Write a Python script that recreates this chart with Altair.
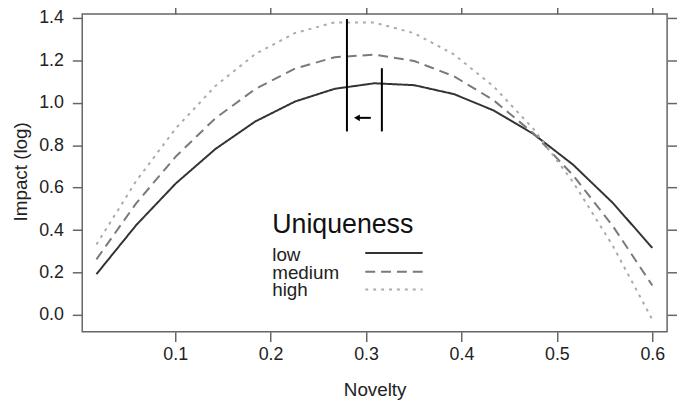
import altair as alt
import pandas as pd

# ---- data ----
novelty = [0.0175, 0.0591, 0.1007, 0.1424, 0.184, 0.2256, 0.2672, 0.3089,
           0.3505, 0.3921, 0.4337, 0.4754, 0.517, 0.5586, 0.6]
low = [0.192, 0.423, 0.620, 0.783, 0.912, 1.006, 1.066, 1.092,
       1.083, 1.041, 0.964, 0.853, 0.708, 0.528, 0.316]
medium = [0.262, 0.526, 0.747, 0.928, 1.065, 1.161, 1.215, 1.227,
          1.197, 1.125, 1.012, 0.856, 0.658, 0.419, 0.139]
high = [0.332, 0.631, 0.880, 1.080, 1.230, 1.329, 1.379, 1.378,
        1.328, 1.228, 1.077, 0.877, 0.626, 0.326, -0.022]
levels = ["low", "medium", "high"]

vline_x = [0.280, 0.3166]
vline_top = [1.395, 1.163]
vline_bottom = [0.865, 0.865]
arrow_from = [0.305]
arrow_to = [0.2905]
arrow_y = [0.929]

x_ticks = [0.1, 0.2, 0.3, 0.4, 0.5, 0.6]
y_ticks = [0.0, 0.2, 0.4, 0.6, 0.8, 1.0, 1.2, 1.4]

# ---- styling ----
FONT = "Liberation Sans"
colors = ["#333333", "#7a7a7a", "#ababab"]
dashes = [[1, 0], [10, 6], [3, 5]]
W, H = 591, 321

rows = []
for lvl, vals in zip(levels, [low, medium, high]):
    for xv, yv in zip(novelty, vals):
        rows.append({"novelty": xv, "impact": yv, "level": lvl})
df = pd.DataFrame(rows)

xscale = alt.Scale(domain=[0.0026, 0.6155], nice=False, zero=False)
yscale = alt.Scale(domain=[-0.079, 1.4186], nice=False, zero=False)

tick_style = dict(grid=False, domain=False, tickColor="#666666", tickWidth=1.5,
                  tickSize=10)

x_axis = alt.Axis(values=x_ticks, format=".1f", labelFont=FONT, labelFontSize=18,
                  labelColor="#222222", labelPadding=4, title="Novelty",
                  titleFont=FONT, titleFontSize=19, titleFontWeight="normal",
                  titleColor="#222222", titleX=W / 2, titleY=64,
                  titleBaseline="alphabetic", titleAlign="center", **tick_style)
y_axis = alt.Axis(values=y_ticks, format=".1f", labelFont=FONT, labelFontSize=18,
                  labelColor="#222222", labelPadding=9, title="Impact (log)",
                  titleFont=FONT, titleFontSize=19, titleFontWeight="normal",
                  titleColor="#222222", titleX=-62, titleY=159, titleAngle=-90,
                  titleBaseline="middle", titleAlign="center", **tick_style)
x_top = alt.Axis(values=x_ticks, labels=False, title=None, orient="top", **tick_style)
y_right = alt.Axis(values=y_ticks, labels=False, title=None, orient="right", **tick_style)

lines = alt.Chart(df).mark_line(strokeWidth=2).encode(
    x=alt.X("novelty:Q", scale=xscale, axis=x_axis),
    y=alt.Y("impact:Q", scale=yscale, axis=y_axis),
    color=alt.Color("level:N", scale=alt.Scale(domain=levels, range=colors), legend=None),
    strokeDash=alt.StrokeDash("level:N", scale=alt.Scale(domain=levels, range=dashes),
                              legend=None),
)

vdf = pd.DataFrame({"x": vline_x, "top": vline_top, "bottom": vline_bottom})
vlines = alt.Chart(vdf).mark_rule(color="black", strokeWidth=2).encode(
    x=alt.X("x:Q", scale=xscale, axis=x_top),
    y=alt.Y("bottom:Q", scale=yscale, axis=y_right),
    y2="top:Q",
)

adf = pd.DataFrame({"x1": arrow_from, "x2": arrow_to, "y": arrow_y})
arrow_line = alt.Chart(adf).mark_rule(color="black", strokeWidth=2).encode(
    x=alt.X("x1:Q", scale=xscale, axis=None),
    x2="x2:Q",
    y=alt.Y("y:Q", scale=yscale, axis=None),
)
arrow_head = alt.Chart(adf).mark_point(shape="triangle-left", filled=True,
                                       color="black", opacity=1, size=45).encode(
    x=alt.X("x2:Q", scale=xscale, axis=None),
    y=alt.Y("y:Q", scale=yscale, axis=None),
)

# ---- manual legend (labels left, keys right) ----
legend_layers = []
legend_layers.append(
    alt.Chart(pd.DataFrame({"t": ["Uniqueness"]})).mark_text(
        font=FONT, fontSize=27, align="left", baseline="alphabetic", color="#111111"
    ).encode(x=alt.value(192), y=alt.value(221.5), text="t:N")
)
label_y = [250, 267.5, 285]
key_y = [241.5, 260.5, 278.5]
for i, lvl in enumerate(levels):
    legend_layers.append(
        alt.Chart(pd.DataFrame({"t": [lvl]})).mark_text(
            font=FONT, fontSize=19, align="left", baseline="alphabetic", color="#222222"
        ).encode(x=alt.value(192), y=alt.value(label_y[i]), text="t:N")
    )
    legend_layers.append(
        alt.Chart(pd.DataFrame({"t": [lvl]})).mark_rule(
            color=colors[i], strokeWidth=2, strokeDash=dashes[i]
        ).encode(x=alt.value(286), x2=alt.value(344), y=alt.value(key_y[i]))
    )

chart = alt.layer(lines, vlines, arrow_line, arrow_head, *legend_layers).resolve_axis(
    x="independent", y="independent"
).properties(
    width=W, height=H, autosize="none",
    padding={"left": 75, "top": 4, "right": 10, "bottom": 68},
).configure_view(stroke="#666666", strokeWidth=1.5)

chart.save("out.html", embed_options={"renderer": "svg", "actions": False})
